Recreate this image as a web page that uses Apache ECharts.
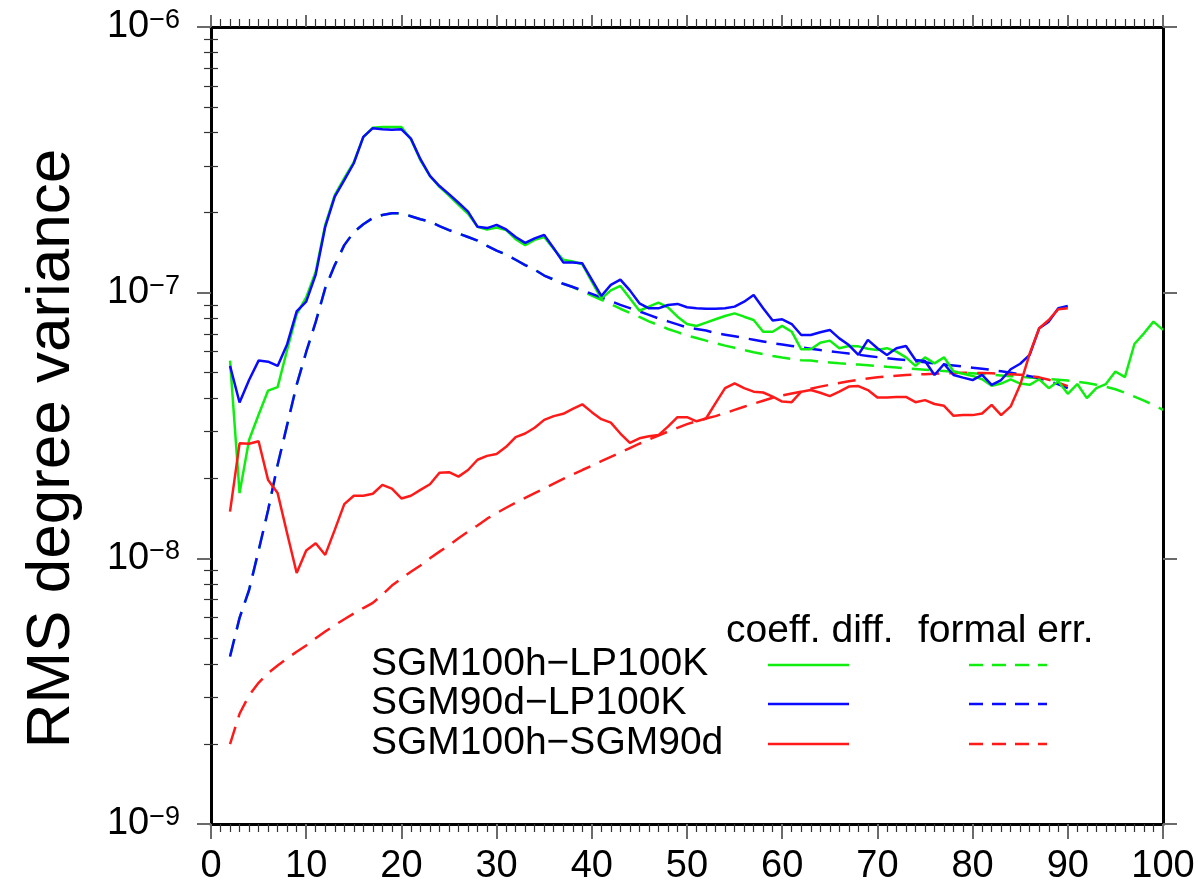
<!DOCTYPE html>
<html>
<head>
<meta charset="utf-8">
<title>RMS degree variance</title>
<script src="https://cdn.jsdelivr.net/npm/echarts@6/dist/echarts.min.js"></script>
<style>
  html, body { margin: 0; padding: 0; background: #fff; }
  #chart { width: 1198px; height: 889px; }
</style>
</head>
<body>
<div id="chart"></div>
<script>
// Spherical harmonic degree n (x axis)
const degrees = [2,3,4,5,6,7,8,9,10,11,12,13,14,15,16,17,18,19,20,21,22,23,24,25,26,27,28,29,30,31,32,33,34,35,36,37,38,39,40,41,42,43,44,45,46,47,48,49,50,51,52,53,54,55,56,57,58,59,60,61,62,63,64,65,66,67,68,69,70,71,72,73,74,75,76,77,78,79,80,81,82,83,84,85,86,87,88,89,90,91,92,93,94,95,96,97,98,99,100];

// y-axis decade labels
const yTicks = [1e-9, 1e-8, 1e-7, 1e-6];
// minor ticks of the log axis (2..9 per decade)
const yMinorTicks = [2e-9,3e-9,4e-9,5e-9,6e-9,7e-9,8e-9,9e-9,2e-8,3e-8,4e-8,5e-8,6e-8,7e-8,8e-8,9e-8,2e-7,3e-7,4e-7,5e-7,6e-7,7e-7,8e-7,9e-7];

// SGM100h - LP100K, coefficient differences (n = 2..100)
const sgm100hLp100kDiff = [5.55e-8,1.76e-8,2.79e-8,3.47e-8,4.28e-8,4.41e-8,6.1e-8,8.3e-8,9.6e-8,1.2e-7,1.8e-7,2.33e-7,2.7e-7,3.1e-7,3.85e-7,4.18e-7,4.2e-7,4.2e-7,4.2e-7,3.78e-7,3.15e-7,2.75e-7,2.5e-7,2.32e-7,2.14e-7,1.98e-7,1.77e-7,1.73e-7,1.76e-7,1.72e-7,1.59e-7,1.51e-7,1.58e-7,1.62e-7,1.46e-7,1.33e-7,1.31e-7,1.28e-7,1.1e-7,9.5e-8,1.02e-7,1.06e-7,9.53e-8,8.55e-8,8.86e-8,9.17e-8,8.81e-8,8.12e-8,7.62e-8,7.49e-8,7.71e-8,7.94e-8,8.17e-8,8.36e-8,8.12e-8,7.89e-8,7.13e-8,7.13e-8,7.5e-8,7.13e-8,6.12e-8,6.12e-8,6.48e-8,6.6e-8,6.18e-8,6.3e-8,6.28e-8,6.15e-8,6.08e-8,6.18e-8,6.0e-8,5.71e-8,5.3e-8,5.71e-8,5.42e-8,5.71e-8,5.05e-8,4.95e-8,4.86e-8,4.72e-8,4.46e-8,4.55e-8,4.72e-8,4.55e-8,4.5e-8,4.72e-8,4.37e-8,4.64e-8,4.16e-8,4.53e-8,4.01e-8,4.37e-8,4.53e-8,5.05e-8,4.81e-8,6.41e-8,7.03e-8,7.78e-8,7.24e-8];

// SGM90d - LP100K, coefficient differences (n = 2..90)
const sgm90dLp100kDiff = [5.3e-8,3.86e-8,4.69e-8,5.55e-8,5.5e-8,5.3e-8,6.4e-8,8.5e-8,9.25e-8,1.17e-7,1.77e-7,2.3e-7,2.65e-7,3.07e-7,3.86e-7,4.16e-7,4.12e-7,4.1e-7,4.12e-7,3.8e-7,3.18e-7,2.75e-7,2.52e-7,2.35e-7,2.18e-7,2.02e-7,1.77e-7,1.75e-7,1.8e-7,1.73e-7,1.62e-7,1.54e-7,1.6e-7,1.65e-7,1.47e-7,1.3e-7,1.3e-7,1.29e-7,1.12e-7,9.72e-8,1.07e-7,1.12e-7,1.02e-7,9.12e-8,8.73e-8,8.73e-8,8.99e-8,9.07e-8,8.81e-8,8.73e-8,8.69e-8,8.69e-8,8.73e-8,8.86e-8,9.25e-8,9.8e-8,8.73e-8,7.85e-8,7.94e-8,7.62e-8,6.93e-8,6.93e-8,7.1e-8,7.24e-8,6.73e-8,6.35e-8,5.83e-8,6.64e-8,6.18e-8,5.83e-8,6.18e-8,6.3e-8,5.58e-8,5.53e-8,4.9e-8,5.39e-8,4.9e-8,4.79e-8,4.69e-8,4.9e-8,4.5e-8,4.69e-8,5.15e-8,5.4e-8,5.83e-8,7.35e-8,7.78e-8,8.73e-8,8.91e-8];

// SGM100h - SGM90d, coefficient differences (n = 2..90)
const sgm100hSgm90dDiff = [1.5e-8,2.71e-8,2.7e-8,2.76e-8,1.97e-8,1.76e-8,1.24e-8,8.8e-9,1.07e-8,1.14e-8,1.03e-8,1.28e-8,1.6e-8,1.72e-8,1.72e-8,1.75e-8,1.89e-8,1.83e-8,1.68e-8,1.72e-8,1.81e-8,1.9e-8,2.1e-8,2.11e-8,2.03e-8,2.15e-8,2.35e-8,2.43e-8,2.47e-8,2.63e-8,2.86e-8,2.95e-8,3.1e-8,3.32e-8,3.43e-8,3.5e-8,3.65e-8,3.8e-8,3.55e-8,3.34e-8,3.24e-8,2.95e-8,2.72e-8,2.83e-8,2.88e-8,2.91e-8,3.13e-8,3.4e-8,3.4e-8,3.28e-8,3.36e-8,3.84e-8,4.37e-8,4.56e-8,4.37e-8,4.24e-8,4.21e-8,4.06e-8,3.89e-8,3.87e-8,4.24e-8,4.3e-8,4.2e-8,4.08e-8,4.24e-8,4.43e-8,4.45e-8,4.3e-8,4.03e-8,4.03e-8,4.05e-8,4.05e-8,3.87e-8,3.94e-8,3.81e-8,3.75e-8,3.44e-8,3.46e-8,3.46e-8,3.51e-8,3.78e-8,3.46e-8,3.73e-8,4.5e-8,5.9e-8,7.35e-8,7.89e-8,8.67e-8,8.73e-8];

// SGM100h - LP100K, formal errors (n = 2..100)
const sgm100hLp100kErr = [4.27e-9,5.97e-9,7.6e-9,1.07e-8,1.52e-8,2.25e-8,3.18e-8,4.5e-8,5.98e-8,7.76e-8,1.04e-7,1.27e-7,1.51e-7,1.69e-7,1.81e-7,1.91e-7,1.96e-7,1.99e-7,1.99e-7,1.94e-7,1.89e-7,1.85e-7,1.78e-7,1.72e-7,1.67e-7,1.62e-7,1.57e-7,1.5e-7,1.44e-7,1.39e-7,1.33e-7,1.27e-7,1.22e-7,1.16e-7,1.12e-7,1.08e-7,1.05e-7,1.01e-7,9.75e-8,9.4e-8,9.05e-8,8.7e-8,8.4e-8,8.1e-8,7.8e-8,7.55e-8,7.3e-8,7.1e-8,6.9e-8,6.75e-8,6.6e-8,6.45e-8,6.32e-8,6.2e-8,6.08e-8,5.97e-8,5.87e-8,5.78e-8,5.7e-8,5.63e-8,5.57e-8,5.55e-8,5.5e-8,5.46e-8,5.42e-8,5.39e-8,5.36e-8,5.33e-8,5.3e-8,5.26e-8,5.23e-8,5.19e-8,5.16e-8,5.13e-8,5.1e-8,5.07e-8,5.04e-8,5.0e-8,4.97e-8,4.94e-8,4.91e-8,4.88e-8,4.85e-8,4.82e-8,4.79e-8,4.76e-8,4.73e-8,4.7e-8,4.67e-8,4.62e-8,4.57e-8,4.5e-8,4.42e-8,4.33e-8,4.2e-8,4.06e-8,3.92e-8,3.78e-8,3.62e-8];

// SGM90d - LP100K, formal errors (n = 2..90)
const sgm90dLp100kErr = [4.27e-9,5.97e-9,7.6e-9,1.07e-8,1.52e-8,2.25e-8,3.18e-8,4.5e-8,5.98e-8,7.76e-8,1.04e-7,1.27e-7,1.51e-7,1.69e-7,1.81e-7,1.91e-7,1.96e-7,1.99e-7,1.99e-7,1.94e-7,1.89e-7,1.85e-7,1.78e-7,1.72e-7,1.67e-7,1.62e-7,1.57e-7,1.5e-7,1.44e-7,1.39e-7,1.33e-7,1.27e-7,1.22e-7,1.16e-7,1.12e-7,1.08e-7,1.05e-7,1.02e-7,9.9e-8,9.6e-8,9.3e-8,9.0e-8,8.75e-8,8.5e-8,8.25e-8,8.0e-8,7.8e-8,7.6e-8,7.4e-8,7.3e-8,7.2e-8,7.05e-8,6.95e-8,6.85e-8,6.75e-8,6.65e-8,6.55e-8,6.45e-8,6.38e-8,6.3e-8,6.22e-8,6.15e-8,6.08e-8,6.02e-8,5.96e-8,5.9e-8,5.84e-8,5.78e-8,5.72e-8,5.67e-8,5.62e-8,5.57e-8,5.52e-8,5.47e-8,5.42e-8,5.37e-8,5.32e-8,5.27e-8,5.22e-8,5.17e-8,5.12e-8,5.06e-8,5.0e-8,4.93e-8,4.85e-8,4.76e-8,4.65e-8,4.52e-8,4.37e-8];

// SGM100h - SGM90d, formal errors (n = 2..90)
const sgm100hSgm90dErr = [2.0e-9,2.6e-9,3.05e-9,3.4e-9,3.7e-9,3.95e-9,4.2e-9,4.45e-9,4.7e-9,5.0e-9,5.3e-9,5.6e-9,5.9e-9,6.2e-9,6.5e-9,6.8e-9,7.3e-9,7.9e-9,8.4e-9,8.9e-9,9.4e-9,1.0e-8,1.06e-8,1.12e-8,1.19e-8,1.26e-8,1.33e-8,1.41e-8,1.48e-8,1.55e-8,1.62e-8,1.69e-8,1.76e-8,1.83e-8,1.91e-8,1.99e-8,2.07e-8,2.15e-8,2.23e-8,2.32e-8,2.41e-8,2.5e-8,2.6e-8,2.7e-8,2.8e-8,2.9e-8,3.0e-8,3.1e-8,3.2e-8,3.28e-8,3.36e-8,3.43e-8,3.52e-8,3.62e-8,3.72e-8,3.82e-8,3.92e-8,4.02e-8,4.1e-8,4.17e-8,4.24e-8,4.35e-8,4.43e-8,4.5e-8,4.57e-8,4.64e-8,4.7e-8,4.75e-8,4.8e-8,4.84e-8,4.87e-8,4.9e-8,4.92e-8,4.93e-8,4.95e-8,4.97e-8,4.98e-8,4.99e-8,4.99e-8,4.98e-8,4.97e-8,4.95e-8,4.93e-8,4.91e-8,4.86e-8,4.8e-8,4.7e-8,4.58e-8,4.45e-8];

const rowNames = ['SGM100h\u2212LP100K', 'SGM90d\u2212LP100K', 'SGM100h\u2212SGM90d'];
const headers = ['coeff. diff.', 'formal err.'];
const colors = ['#10ee10', '#0a0aff', '#ff1a1a'];

const FONT = '"Liberation Sans", Arial, Helvetica, sans-serif';
const DASH = [18, 10];

function pairs(values) {
  return values.map((v, i) => [degrees[i], v]);
}

function lineSeries(name, values, color, dashed) {
  return {
    name: name,
    type: 'line',
    data: pairs(values),
    xAxisIndex: 0,
    yAxisIndex: 0,
    showSymbol: false,
    symbol: 'none',
    silent: true,
    lineStyle: { color: color, width: 2.5, type: dashed ? DASH : 'solid', cap: 'butt' }
  };
}

function xAxisDef(pos, showLabels) {
  return {
    type: 'value',
    position: pos,
    min: 0, max: 100, interval: 10,
    axisLine: { show: true, onZero: false, lineStyle: { color: '#000', width: 3 } },
    axisTick: { show: true, inside: false, length: pos === 'bottom' ? 15 : 12, lineStyle: { color: '#6a6a6a', width: 2 } },
    minorTick: { show: true, splitNumber: 10, length: 8, lineStyle: { color: '#333', width: 1.2 } },
    axisLabel: { show: showLabels, fontFamily: FONT, fontSize: 38, color: '#000', margin: 24 },
    splitLine: { show: false },
    minorSplitLine: { show: false }
  };
}

function yMajor(pos, showLabels, withName) {
  const ax = {
    type: 'log',
    logBase: 10,
    position: pos,
    min: 1e-9, max: 1e-6,
    axisLine: { show: true, onZero: false, lineStyle: { color: '#000', width: 3 } },
    axisTick: { show: true, inside: false, length: 14, customValues: yTicks, lineStyle: { color: '#6a6a6a', width: 2 } },
    axisLabel: {
      show: showLabels,
      customValues: yTicks,
      fontFamily: FONT, fontSize: 38, color: '#000', margin: 31, lineHeight: 40,
      formatter: function (v) {
        const e = Math.round(Math.log10(v));
        return '10{s|\u2212' + Math.abs(e) + '}';
      },
      rich: { s: { fontFamily: FONT, fontSize: 27, color: '#000', lineHeight: 40, verticalAlign: 'top' } }
    },
    splitLine: { show: false }
  };
  if (withName) {
    ax.name = 'RMS degree variance';
    ax.nameLocation = 'middle';
    ax.nameRotate = 90;
    ax.nameGap = 128;
    ax.nameTextStyle = { fontFamily: FONT, fontSize: 62, color: '#000', padding: [0, 46, 0, 0] };
  }
  return ax;
}

function yMinor(pos) {
  return {
    type: 'log',
    logBase: 10,
    position: pos,
    min: 1e-9, max: 1e-6,
    axisLine: { show: false },
    axisTick: { show: true, inside: false, length: 7, customValues: yMinorTicks, lineStyle: { color: '#333', width: 1.2 } },
    axisLabel: { show: false },
    splitLine: { show: false }
  };
}

// Legend table: header row, then one row per difference with solid and dashed samples
const legendGraphics = [];
const colDiffX = [768, 849];
const colErrX = [969, 1047];
legendGraphics.push({ type: 'text', left: 726, top: 612, style: { text: headers[0], font: '39px ' + FONT, fill: '#000' } });
legendGraphics.push({ type: 'text', left: 918, top: 612, style: { text: headers[1], font: '39px ' + FONT, fill: '#000' } });
const rowY = [665, 704, 744];
rowNames.forEach(function (name, i) {
  legendGraphics.push({ type: 'text', left: 371, top: rowY[i] - 20, style: { text: name, font: '39px ' + FONT, fill: '#000' } });
  legendGraphics.push({ type: 'line', shape: { x1: colDiffX[0], y1: rowY[i], x2: colDiffX[1], y2: rowY[i] }, style: { stroke: colors[i], lineWidth: 2.5 } });
  legendGraphics.push({ type: 'line', shape: { x1: colErrX[0], y1: rowY[i], x2: colErrX[1], y2: rowY[i] }, style: { stroke: colors[i], lineWidth: 2.5, lineDash: [14, 9] } });
});

const chart = echarts.init(document.getElementById('chart'), null, { renderer: 'canvas' });
chart.setOption({
  animation: false,
  backgroundColor: '#fff',
  grid: { left: 211, right: 35, top: 27, bottom: 65, containLabel: false },
  xAxis: [xAxisDef('bottom', true), xAxisDef('top', false)],
  yAxis: [yMajor('left', true, true), yMinor('left'), yMajor('right', false, false), yMinor('right')],
  series: [
    lineSeries(rowNames[0] + ' err', sgm100hLp100kErr, colors[0], true),
    lineSeries(rowNames[1] + ' err', sgm90dLp100kErr, colors[1], true),
    lineSeries(rowNames[2] + ' err', sgm100hSgm90dErr, colors[2], true),
    lineSeries(rowNames[0], sgm100hLp100kDiff, colors[0], false),
    lineSeries(rowNames[1], sgm90dLp100kDiff, colors[1], false),
    lineSeries(rowNames[2], sgm100hSgm90dDiff, colors[2], false)
  ],
  graphic: legendGraphics
});
</script>
</body>
</html>
